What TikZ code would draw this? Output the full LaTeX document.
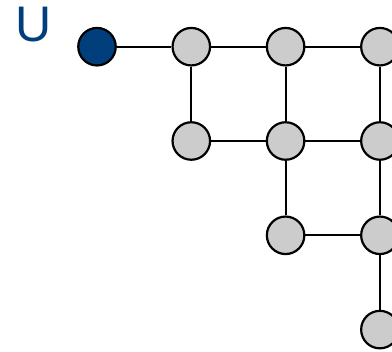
\documentclass[tikz,border=0pt]{standalone}
\usepackage{fontspec}
\setmainfont{Liberation Sans}
\usepackage{tikz}
\usetikzlibrary{positioning}
\definecolor{NodeBlue}{RGB}{0,62,124}
\definecolor{NodeGray}{RGB}{204,204,204}
\tikzset{
    gridnode/.style={circle, draw=black, line width=2.2pt, fill=NodeGray, minimum size=37.5pt, inner sep=0pt},
    startnode/.style={gridnode, fill=NodeBlue},
    link/.style={draw=black, line width=2.2pt}
}

\begin{document}
\begin{tikzpicture}[node distance=94.3pt, on grid]
    \useasboundingbox (0,0) rectangle (392pt,-352pt);
    % label of the start vertex
    \node[text=NodeBlue, font=\fontsize{50}{60}\selectfont, inner sep=0pt] (lblU) at (34pt,-25pt) {U};
    % first row
    \node[startnode] (n11) at (97pt,-46.7pt) {};
    \node[gridnode, right=of n11] (n12) {};
    \node[gridnode, right=of n12] (n13) {};
    \node[gridnode, right=of n13] (n14) {};
    % second row
    \node[gridnode, below=of n12] (n22) {};
    \node[gridnode, below=of n13] (n23) {};
    \node[gridnode, below=of n14] (n24) {};
    % third and fourth rows
    \node[gridnode, below=of n23] (n33) {};
    \node[gridnode, below=of n24] (n34) {};
    \node[gridnode, below=of n34] (n44) {};
    % edges
    \foreach \a/\b in {n11/n12, n12/n13, n13/n14, n12/n22, n13/n23, n14/n24,
                       n22/n23, n23/n24, n23/n33, n24/n34, n33/n34, n34/n44}
        \draw[link] (\a) -- (\b);
\end{tikzpicture}
\end{document}
